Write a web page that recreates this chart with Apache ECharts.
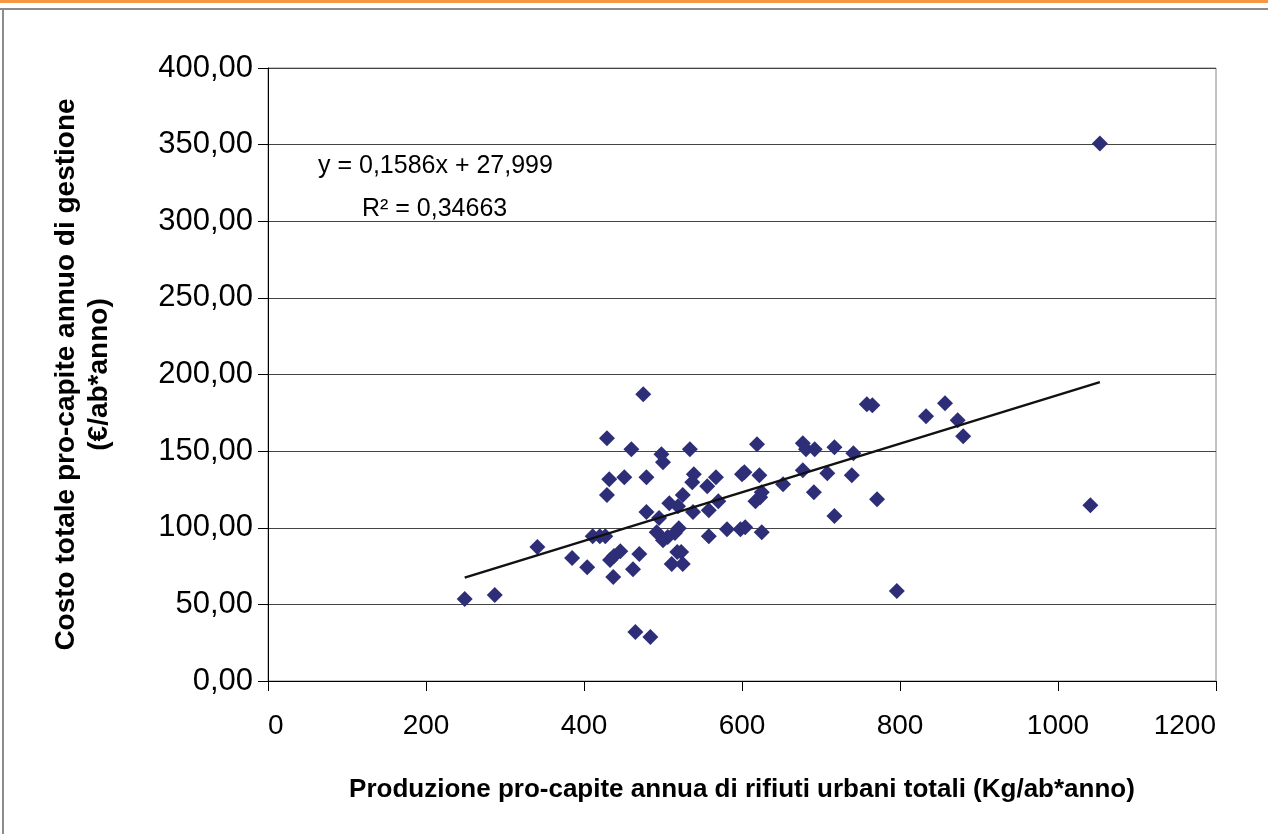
<!DOCTYPE html>
<html>
<head>
    <meta charset="utf-8">
    <title>Costo vs produzione rifiuti</title>
    <script src="https://cdn.jsdelivr.net/npm/echarts@6/dist/echarts.min.js"></script>
    <style>
        html, body { margin: 0; padding: 0; background: #fff; }
        #chart { width: 1268px; height: 834px; }
    </style>
</head>
<body>
    <div id="chart"></div>
    <script type="text/javascript">
        // produzione pro-capite (Kg/ab*anno)
        var prodValues = [
            249, 287, 341, 385, 404, 411, 420, 427, 429, 432,
            429, 433, 438, 446, 437, 451, 460, 462, 465, 470,
            475, 479, 479, 484, 492, 495, 498, 500, 500, 506,
            511, 515, 520, 518, 523, 525, 525, 508, 519, 534,
            539, 537, 538, 556, 558, 558, 567, 570, 581, 598,
            604, 600, 603, 617, 623, 625, 622, 619, 625, 652,
            677, 681, 692, 677, 691, 708, 717, 717, 739, 741,
            758, 765, 771, 796, 833, 857, 873, 880, 1041, 1053
        ];
        // costo totale pro-capite (€/ab*anno)
        var costValues = [
            53.5, 56.1, 87.4, 80.2, 74.3, 94.5, 94.5, 94.5, 158.4, 131.7,
            121.3, 78.9, 81.5, 84.7, 67.8, 133.0, 151.2, 73.0, 31.9, 82.8,
            187.1, 133.0, 110.2, 28.7, 97.1, 106.3, 148.0, 142.8, 91.9, 93.9,
            76.3, 96.5, 99.7, 84.1, 84.1, 76.3, 121.3, 116.0, 114.1, 151.2,
            134.9, 129.7, 110.2, 127.1, 111.5, 94.5, 133.0, 117.3, 99.1, 99.1,
            100.4, 134.9, 136.2, 117.3, 119.9, 123.2, 134.3, 154.5, 97.1, 128.4,
            155.1, 151.2, 151.2, 137.5, 123.2, 135.6, 152.5, 107.6, 134.3, 148.6,
            180.6, 179.9, 118.6, 58.7, 172.8, 181.2, 170.1, 159.7, 114.7, 350.7
        ];
        // linea di tendenza y = 0,1586x + 27,999
        var trendSlope = 0.1586;
        var trendIntercept = 27.999;
        var eqText = 'y = 0,1586x + 27,999';
        var r2Text = 'R² = 0,34663';

        var xTitle = 'Produzione pro-capite annua di rifiuti urbani totali (Kg/ab*anno)';
        var yTitle = 'Costo totale pro-capite annuo di gestione\n(€/ab*anno)';

        var points = prodValues.map(function (x, i) { return [x, costValues[i]]; });
        var xMin = Math.min.apply(null, prodValues);
        var xMax = Math.max.apply(null, prodValues);
        var trendData = [
            [xMin, trendSlope * xMin + trendIntercept],
            [xMax, trendSlope * xMax + trendIntercept]
        ];

        var font = "'Liberation Sans', Arial, sans-serif";
        var myChart = echarts.init(document.getElementById('chart'));

        var option = {
            backgroundColor: '#fff',
            animation: false,
            grid: {
                left: 268, right: 52, top: 68, bottom: 153,
                show: true, borderColor: '#888', borderWidth: 1
            },
            xAxis: {
                type: 'value',
                min: 0, max: 1200, interval: 200,
                name: xTitle,
                nameLocation: 'middle',
                nameGap: 96,
                nameTextStyle: { fontFamily: font, fontSize: 26, fontWeight: 'bold', color: '#000' },
                axisLine: { lineStyle: { color: '#000', width: 1 } },
                axisTick: { show: true, inside: false, length: 10, lineStyle: { color: '#000' } },
                axisLabel: {
                    fontFamily: font, fontSize: 28, color: '#000', margin: 31,
                    alignMinLabel: 'left', alignMaxLabel: 'right',
                    formatter: function (v) { return String(v); }
                },
                splitLine: { show: false }
            },
            yAxis: {
                type: 'value',
                min: 0, max: 400, interval: 50,
                name: yTitle,
                nameLocation: 'middle',
                nameGap: 152,
                nameRotate: 90,
                nameTextStyle: { fontFamily: font, fontSize: 28, fontWeight: 'bold', color: '#000', lineHeight: 33 },
                axisLine: { show: true, lineStyle: { color: '#000', width: 1 } },
                axisTick: { show: true, inside: false, length: 10, lineStyle: { color: '#000' } },
                axisLabel: {
                    fontFamily: font, fontSize: 31, color: '#000', margin: 15,
                    formatter: function (v) { return v.toFixed(2).replace('.', ','); }
                },
                splitLine: { show: true, lineStyle: { color: '#444', width: 1 } }
            },
            series: [
                {
                    name: 'dati',
                    type: 'scatter',
                    symbol: 'diamond',
                    symbolSize: 16,
                    itemStyle: { color: '#2e2e78', opacity: 1 },
                    data: points,
                    z: 3
                },
                {
                    name: 'tendenza',
                    type: 'line',
                    data: trendData,
                    symbol: 'none',
                    lineStyle: { color: '#111', width: 2.5 },
                    z: 4
                }
            ],
            graphic: [
                { type: 'rect', left: 0, top: 0, shape: { width: 1268, height: 3 }, style: { fill: '#f79646' } },
                { type: 'rect', left: 0, top: 8, shape: { width: 1268, height: 2 }, style: { fill: '#8c8c8c' } },
                { type: 'rect', left: 2, top: 8, shape: { width: 2, height: 826 }, style: { fill: '#8c8c8c' } },
                {
                    type: 'text', left: 318, top: 154,
                    style: { text: eqText, fontFamily: font, fontSize: 25, fill: '#000' }
                },
                {
                    type: 'text', left: 362, top: 197,
                    style: { text: r2Text, fontFamily: font, fontSize: 25, fill: '#000' }
                }
            ]
        };

        myChart.setOption(option);
    </script>
</body>
</html>
